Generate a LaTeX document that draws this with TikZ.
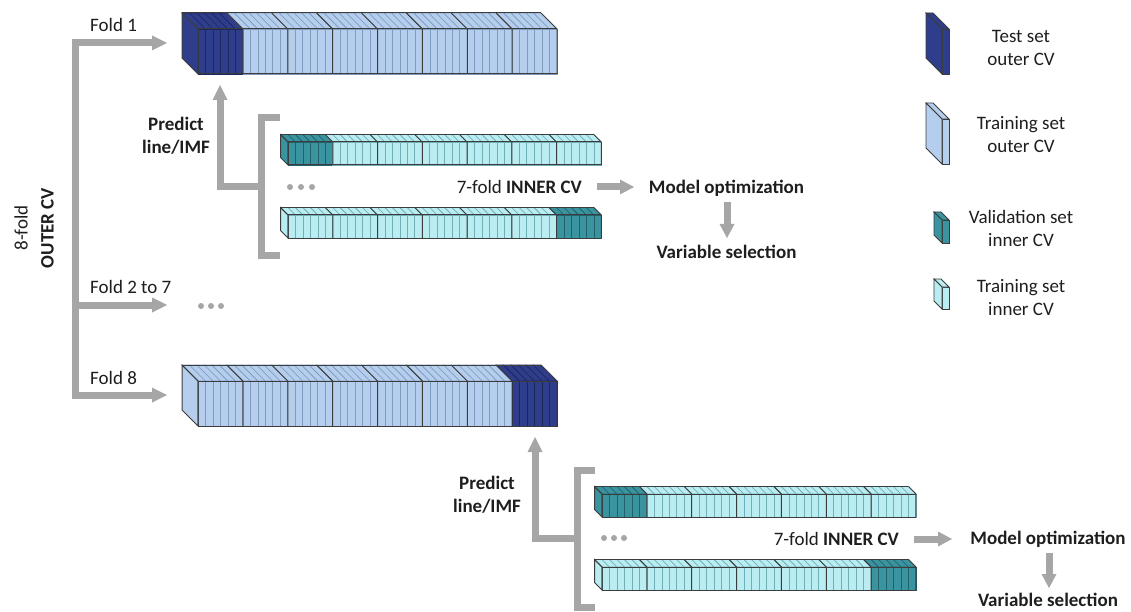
\documentclass[tikz,border=0pt]{standalone}
\usepackage{fontspec}
\setmainfont{Carlito}
\usetikzlibrary{arrows.meta}
\definecolor{oD}{HTML}{2E3E8C}
\definecolor{oDln}{HTML}{1C275E}
\definecolor{oL}{HTML}{B5CEEE}
\definecolor{oLln}{HTML}{7F9CC0}
\definecolor{iD}{HTML}{3A94A0}
\definecolor{iDln}{HTML}{22606A}
\definecolor{iL}{HTML}{B9EDF1}
\definecolor{iLln}{HTML}{72AEB5}
\definecolor{bnd}{HTML}{3C3C3C}
\definecolor{agray}{HTML}{A6A6A6}
\definecolor{txt}{HTML}{1E1E1E}

% #1 X, #2 Y (front top-left), #3 segment width, #4 height, #5 depth,
% #6 number of segments, #7 highlighted segment, #8 light colour, #9 dark colour
\newcommand{\cvbar}[9]{%
  \foreach \s in {1,...,#6}{%
    \ifnum\s=#7\relax\def\fc{#9}\def\flc{#9ln}\else\def\fc{#8}\def\flc{#8ln}\fi
    \foreach \k in {0,...,5}{%
      \pgfmathsetmacro\xa{#1+(\s-1)*#3+\k*#3/6}%
      \pgfmathsetmacro\xb{\xa+#3/6}%
      \filldraw[fill=\fc,draw=\flc,line width=0.6pt] (\xa,#2) rectangle (\xb,#2+#4);
      \filldraw[fill=\fc,draw=\flc,line width=0.6pt] (\xa,#2) -- (\xb,#2) -- (\xb-#5,#2-#5) -- (\xa-#5,#2-#5) -- cycle;
    }%
  }%
  \ifnum#7=1\relax\def\sfc{#9}\else\def\sfc{#8}\fi
  \filldraw[fill=\sfc,draw=bnd,line width=1pt] (#1,#2) -- (#1-#5,#2-#5) -- (#1-#5,#2+#4-#5) -- (#1,#2+#4) -- cycle;
  \foreach \s in {0,...,#6}{%
    \pgfmathsetmacro\xs{#1+\s*#3}%
    \draw[bnd,line width=1pt] (\xs,#2+#4) -- (\xs,#2) -- (\xs-#5,#2-#5);
  }%
  \draw[bnd,line width=1pt] (#1-#5,#2-#5) -- ({#1+#6*#3-#5},#2-#5)
     (#1,#2) -- ({#1+#6*#3},#2) (#1,#2+#4) -- ({#1+#6*#3},#2+#4);
}
% legend slab: #1 X, #2 Y, #3 w, #4 H, #5 d, #6 colour
\newcommand{\cvslab}[6]{%
  \filldraw[fill=#6,draw=bnd,line width=0.8pt] (#1,#2) rectangle (#1+#3,#2+#4);
  \filldraw[fill=#6,draw=bnd,line width=0.8pt] (#1,#2) -- (#1+#3,#2) -- (#1+#3-#5,#2-#5) -- (#1-#5,#2-#5) -- cycle;
  \filldraw[fill=#6,draw=bnd,line width=0.8pt] (#1,#2) -- (#1-#5,#2-#5) -- (#1-#5,#2+#4-#5) -- (#1,#2+#4) -- cycle;
}

\begin{document}
\begin{tikzpicture}[x=1pt,y=-1pt,
  lbl/.style={font=\fontsize{19}{23}\selectfont, text=txt, inner sep=0pt},
  blbl/.style={lbl, font=\fontsize{19}{23}\selectfont\bfseries},
  gline/.style={draw=agray, line width=7pt, line join=miter},
  garrow/.style={gline, -{Triangle[length=15pt,width=15pt,line width=0pt]}},
  barrow/.style={draw=agray, line width=7pt, -{Triangle[length=14pt,width=15pt,line width=0pt]}},
  gdot/.style={circle, fill=agray, inner sep=0pt, minimum size=6pt}]
\useasboundingbox (0,0) rectangle (1131,612);
\fill[white] (0,0) rectangle (1131,612);

% ---------- bars ----------
\cvbar{198}{29}{44.875}{45}{16}{8}{1}{oL}{oD}
\cvbar{198}{381}{44.875}{45}{16}{8}{8}{oL}{oD}
\cvbar{288}{142}{44.75}{23}{7.5}{7}{1}{iL}{iD}
\cvbar{288}{215}{44.75}{23}{7.5}{7}{7}{iL}{iD}
\cvbar{602}{494}{44.85}{23}{7.5}{7}{1}{iL}{iD}
\cvbar{602}{567}{44.85}{23}{7.5}{7}{7}{iL}{iD}

% ---------- legend ----------
\cvslab{942}{29}{7}{45}{16}{oD}
\cvslab{942}{119}{7}{45}{16}{oL}
\cvslab{942}{220}{7}{23}{8}{iD}
\cvslab{942}{287}{7}{22}{8}{iL}
\node[lbl,align=center] (lg1) at (1021,47.5) {Test set\\outer CV};
\node[lbl,align=center] (lg2) at (1021,135) {Training set\\outer CV};
\node[lbl,align=center] (lg3) at (1021,228.5) {Validation set\\inner CV};
\node[lbl,align=center] (lg4) at (1021,297.5) {Training set\\inner CV};

% ---------- outer CV tree ----------
\node[lbl,rotate=90,align=center,font=\fontsize{19}{26}\selectfont] (outer) at (34,228) {8-fold\\\textbf{OUTER CV}};
\node[lbl,anchor=west] (f1) at (90,25) {Fold 1};
\node[lbl,anchor=west] (f27) at (90,287) {Fold 2 to 7};
\node[lbl,anchor=west] (f8) at (90,378) {Fold 8};
\coordinate (treeTop) at (75,43);
\coordinate (treeMid) at (75,305);
\coordinate (treeBot) at (75,395);
\coordinate (f1tip) at (167,43);
\coordinate (f27tip) at (167,305);
\coordinate (f8tip) at (167,395);
\draw[garrow] (treeBot) -- (treeTop) -- (f1tip);
\draw[garrow] (treeTop) -- (treeBot) -- (f8tip);
\draw[garrow] (treeMid) -- (f27tip);
\node[gdot] (m1) at (201,306) {};
\node[gdot] (m2) at (211,306) {};
\node[gdot] (m3) at (221,306) {};

% ---------- inner CV, fold 1 ----------
\coordinate (brAT) at (280,118);
\coordinate (brATL) at (261,118);
\coordinate (brABL) at (261,255);
\coordinate (brAB) at (280,255);
\coordinate (brAJ) at (261,187);
\coordinate (upAC) at (220,187);
\coordinate (upAT) at (220,85);
\draw[gline] (brAT) -- (brATL) -- (brABL) -- (brAB);
\draw[garrow] (brAJ) -- (upAC) -- (upAT);
\node[blbl,align=center] (predA) at (176,136) {Predict\\line/IMF};
\node[gdot] (a1) at (290,187) {};
\node[gdot] (a2) at (301,187) {};
\node[gdot] (a3) at (312,187) {};
\node[lbl,anchor=east] (innA) at (582,187) {7-fold \textbf{INNER CV}};
\node[blbl] (moA) at (726.5,188) {Model optimization};
\node[blbl] (vsA) at (726.5,252) {Variable selection};
\coordinate (arA1) at (597,187);
\coordinate (arA2) at (634,187);
\coordinate (dnA1) at (727,202);
\coordinate (dnA2) at (727,238);
\draw[barrow] (arA1) -- (arA2);
\draw[barrow] (dnA1) -- (dnA2);

% ---------- inner CV, fold 8 ----------
\coordinate (brBT) at (595,470);
\coordinate (brBTL) at (577,470);
\coordinate (brBBL) at (577,607);
\coordinate (brBB) at (595,607);
\coordinate (brBJ) at (577,538);
\coordinate (upBC) at (535,538);
\coordinate (upBT) at (535,437);
\draw[gline] (brBT) -- (brBTL) -- (brBBL) -- (brBB);
\draw[garrow] (brBJ) -- (upBC) -- (upBT);
\node[blbl,align=center] (predB) at (487,495) {Predict\\line/IMF};
\node[gdot] (b1) at (604,538) {};
\node[gdot] (b2) at (614,538) {};
\node[gdot] (b3) at (624,538) {};
\node[lbl,anchor=east] (innB) at (899,539) {7-fold \textbf{INNER CV}};
\node[blbl] (moB) at (1048,539) {Model optimization};
\node[blbl] (vsB) at (1048,600) {Variable selection};
\coordinate (arB1) at (914,539);
\coordinate (arB2) at (952,539);
\coordinate (dnB1) at (1049,553);
\coordinate (dnB2) at (1049,588);
\draw[barrow] (arB1) -- (arB2);
\draw[barrow] (dnB1) -- (dnB2);
\end{tikzpicture}
\end{document}
